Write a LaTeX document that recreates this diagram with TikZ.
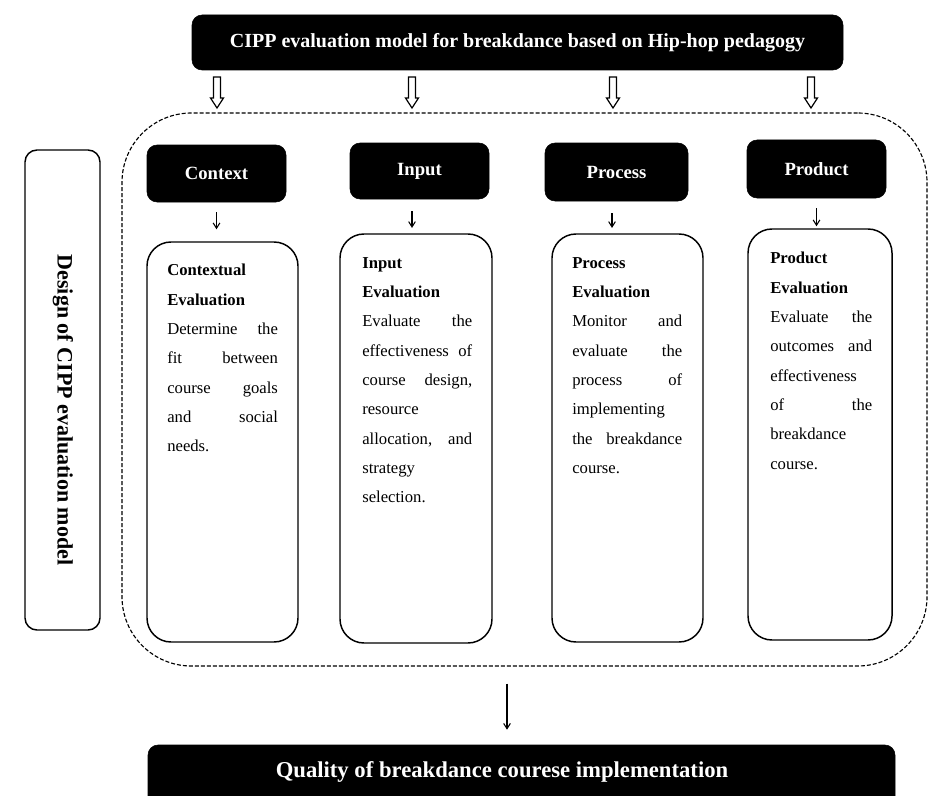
\documentclass[tikz,border=0pt]{standalone}
\usepackage{fontspec}
\setmainfont{Liberation Serif}
\usetikzlibrary{arrows.meta,fit}
\begin{document}
\begin{tikzpicture}[x=0.75pt,y=-0.75pt,
  hdr/.style={fill=black,draw=black,rounded corners=7.5pt,inner sep=0pt},
  hdrtext/.style={text=white,inner sep=0pt,font=\bfseries\fontsize{14}{16}\selectfont},
  card/.style={draw=black,line width=1.1pt,rounded corners=18pt,inner sep=0pt},
  sidebox/.style={draw=black,line width=1.1pt,rounded corners=9pt,inner sep=0pt},
  txt/.style={anchor=north west,inner sep=0pt,align=left,
    font=\fontsize{12.5}{22}\selectfont},
  arr/.style={line width=0.8pt,-{Straight Barb[length=4pt,width=5pt]}},
  frame/.style={draw=black,line width=0.85pt,dash pattern=on 3pt off 1.5pt,
    rounded corners=52pt,inner sep=0pt},
  hollow arrow/.pic={\draw[line width=0.9pt,line join=miter]
    (-3.5,0) -- (-3.5,21) -- (-6.5,21) -- (0,31) -- (6.5,21) -- (3.5,21) -- (3.5,0) -- cycle;}
]
\useasboundingbox (0,0) rectangle (930,795);
\clip (0,0) rectangle (930,795);

% title bar
\node[hdr,fit={(192,15)(843,70)},
  label={[hdrtext,font=\bfseries\fontsize{15}{18}\selectfont]center:CIPP evaluation model for breakdance based on Hip-hop pedagogy}] (title) {};

% hollow arrows into the dashed frame
\pic at (217,77) {hollow arrow};
\pic at (412,77) {hollow arrow};
\pic at (613,77) {hollow arrow};
\pic at (811,77) {hollow arrow};

% dashed frame around the four stages
\node[frame,fit={(122,113)(927,666)}] (frm) {};

% side label
\node[sidebox,fit={(25,150)(100,630)}] (side) {};
\node[rotate=-90,font=\bfseries\fontsize{16.5}{18}\selectfont] (sidetxt) at (63,410)
  {Design of CIPP evaluation model};

% stage headers
\node[hdr,fit={(147,145)(286,202)},label={[hdrtext]center:Context}] (h1) {};
\node[hdr,fit={(350,143)(489,199)},label={[hdrtext]center:Input}] (h2) {};
\node[hdr,fit={(545,143)(688,201)},label={[hdrtext]center:Process}] (h3) {};
\node[hdr,fit={(747,140)(886,198)},label={[hdrtext]center:Product}] (h4) {};

% stage cards
\node[card,fit={(147,242)(298,642)}] (c1) {};
\node[card,fit={(340,234)(492,643)}] (c2) {};
\node[card,fit={(552,234)(703,642)}] (c3) {};
\node[card,fit={(748,229)(892,640)}] (c4) {};

\node[txt,text width=83pt] (t1) at (167,264)
  {\textbf{Contextual}\\\textbf{Evaluation}\\Determine\hfill the\\fit\hfill between\\course\hfill goals\\and\hfill social\\needs.};
\node[txt,text width=82.5pt] (t2) at (362,257)
  {\textbf{Input}\\\textbf{Evaluation}\\Evaluate\hfill the\\effectiveness\hfill of\\course\hfill design,\\resource\\allocation,\hfill and\\strategy\\selection.};
\node[txt,text width=82.5pt] (t3) at (572,257)
  {\textbf{Process}\\\textbf{Evaluation}\\Monitor\hfill and\\evaluate\hfill the\\process\hfill of\\implementing\\the\hfill breakdance\\course.};
\node[txt,text width=76.5pt] (t4) at (770,252)
  {\textbf{Product}\\\textbf{Evaluation}\\Evaluate\hfill the\\outcomes\hfill and\\effectiveness\\of\hfill the\\breakdance\\course.};

% header-to-card arrows
\draw[arr,shorten <=7.5pt,shorten >=9pt] (h1.south) -- (h1.south |- c1.north);
\draw[arr,shorten <=9pt,shorten >=4pt] (h2.south -| 412,0) -- (c2.north -| 412,0);
\draw[arr,shorten <=9pt,shorten >=4pt] (h3.south -| 612,0) -- (c3.north -| 612,0);
\draw[arr,shorten <=7.5pt,shorten >=1.5pt] (h4.south) -- (h4.south |- c4.north);

% outcome
\node[hdr,fit={(148,745)(895,815)}] (out) {};
\node[hdrtext,font=\bfseries\fontsize{17}{20}\selectfont] (outtxt) at (502,772)
  {Quality of breakdance courese implementation};
\draw[arr,shorten <=12.75pt,shorten >=11.25pt] (frm.south -| 507,0) -- (out.north -| 507,0);
\end{tikzpicture}
\end{document}
